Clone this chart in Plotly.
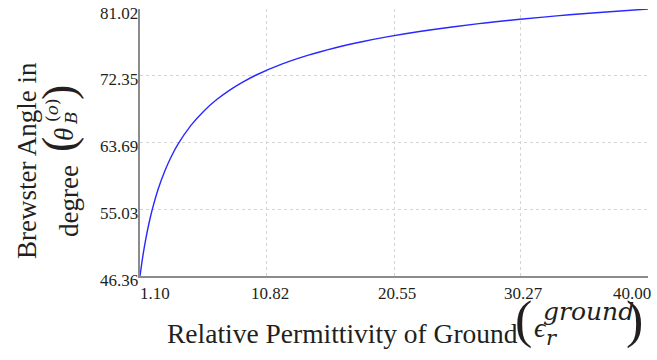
import plotly.graph_objects as go

# Brewster angle of a dielectric ground vs. its relative permittivity
permittivity = [1.10, 1.25, 1.35, 1.50, 1.75, 2.00, 2.50, 3.00, 3.50, 4.00, 5.00,
                6.00, 7.00, 8.00, 9.00, 10.00, 12.00, 14.00, 16.00, 18.00, 20.00,
                22.50, 25.00, 27.50, 30.00, 33.00, 36.00, 40.00]
brewster_deg = [46.365, 48.190, 49.283, 50.769, 52.914, 54.736, 57.688, 60.000,
                61.876, 63.435, 65.905, 67.792, 69.295, 70.529, 71.565, 72.452,
                73.898, 75.037, 75.964, 76.737, 77.396, 78.095, 78.690, 79.204,
                79.653, 80.125, 80.538, 81.019]

x_ticks = [1.10, 10.82, 20.55, 30.27, 40.00]
x_tick_text = ["1.10", "10.82", "20.55", "30.27", "40.00"]
y_ticks = [46.36, 55.03, 63.69, 72.35, 81.02]
y_tick_text = ["46.36", "55.03", "63.69", "72.35", "81.02"]

W, H = 657, 360
L, R, T, B = 140, 9, 9, 84
PW, PH = W - L - R, H - T - B

SERIF = "Liberation Serif, Times New Roman, serif"
MATH = "DejaVu Serif, serif"
INK = "#231f20"


def paper(px, py):
    """Page pixel position -> paper coordinates."""
    return (px - L) / PW, (H - B - py) / PH


fig = go.Figure()
fig.add_trace(go.Scatter(
    x=permittivity, y=brewster_deg, mode="lines",
    line=dict(color="rgb(40,40,255)", width=1.4, shape="spline"),
    showlegend=False, hoverinfo="skip",
))

annotations = []

# x tick labels: first left-aligned, last right-aligned
for i, (v, t) in enumerate(zip(x_ticks, x_tick_text)):
    if i == 0:
        anchor, dx = "left", -2
    elif i == len(x_ticks) - 1:
        anchor, dx = "right", 5
    else:
        anchor, dx = "center", 3
    annotations.append(dict(
        x=v, y=0, xref="x", yref="paper", text=t, showarrow=False,
        xanchor=anchor, yanchor="top", xshift=dx, yshift=-6,
        font=dict(family=SERIF, size=17, color=INK),
    ))

# y tick labels
for v, t in zip(y_ticks, y_tick_text):
    annotations.append(dict(
        x=0, y=v, xref="paper", yref="y", text=t, showarrow=False,
        xanchor="right", yanchor="middle", xshift=0, yshift=-4,
        font=dict(family=SERIF, size=17, color=INK),
    ))


def label(px, py, text, size, family=SERIF, angle=0):
    x, y = paper(px, py)
    annotations.append(dict(
        x=x, y=y, xref="paper", yref="paper", text=text, showarrow=False,
        xanchor="center", yanchor="middle", textangle=angle,
        font=dict(family=family, size=size, color=INK),
    ))


# x-axis title: text plus the permittivity symbol with stacked indices
label(342, 333, "Relative Permittivity of Ground", 27.5)
label(523, 320, "(", 52)
label(540, 327, "<i>ϵ</i>", 28)
label(588, 311, "<i>ground</i>", 25, MATH)
label(552, 338, "<i>r</i>", 21, MATH)
label(634, 320, ")", 52)

# y-axis title (rotated), second line carries the angle symbol
label(27, 161, "Brewster Angle in", 27, angle=-90)
label(69, 201, "degree", 27, angle=-90)
label(58, 145, "(", 46, angle=-90)
label(64, 135, "<i>θ</i>", 27, angle=-90)
label(52, 110, "(<i>o</i>)", 17, MATH, angle=-90)
label(71, 118, "<i>B</i>", 17, MATH, angle=-90)
label(58, 93, ")", 46, angle=-90)

axis_common = dict(
    showgrid=True, gridcolor="#d4d4d4", griddash="dot", gridwidth=1,
    showline=True, linecolor="#8c8c8c", linewidth=2,
    zeroline=False, ticks="", showticklabels=False, fixedrange=True,
)

fig.update_layout(
    width=W, height=H,
    margin=dict(l=L, r=R, t=T, b=B, pad=0),
    paper_bgcolor="white", plot_bgcolor="white",
    xaxis=dict(range=[1.10, 40.00], tickvals=x_ticks, **axis_common),
    yaxis=dict(range=[46.36, 81.02], tickvals=y_ticks, **axis_common),
    annotations=annotations,
)

fig.write_html("out.html")
